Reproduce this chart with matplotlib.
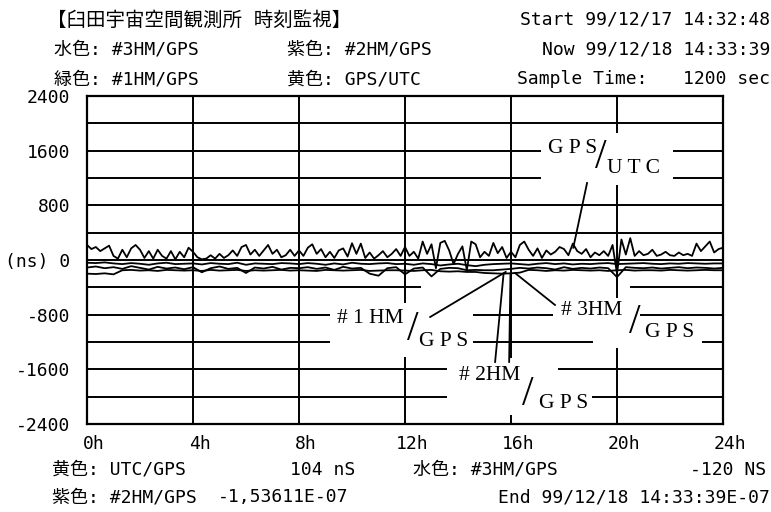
import numpy as np
import matplotlib.pyplot as plt
import matplotlib.transforms as mtransforms
from matplotlib.patches import Rectangle

W, H = 771, 512
MONO = ['DejaVu Sans Mono', 'Noto Sans CJK JP']
SERIF = ['Liberation Serif', 'DejaVu Serif']

# time offsets in ns, one value every 10 min (GPS/UTC) or 20 min (the masers)
utc_gps = [220, 160, 190, 130, 170, 210, 60, 20, 150, 40, 170, 220,
           150, 30, 130, 20, 150, 60, 20, 130, 10, 120, 40, 180,
           120, 40, 10, 20, 70, 20, 90, 30, 70, 140, 60, 190,
           220, 80, 150, 60, 140, 220, 90, 150, 40, 70, 150, 60,
           140, 60, 180, 230, 90, 160, 40, 120, 30, 140, 170, 50,
           245, 90, 240, 30, 110, 20, 70, 130, 40, 90, 160, 60,
           190, 60, 120, 20, 270, 90, 230, -120, 250, 280, 140, -60,
           90, 200, -150, 270, 230, 40, 120, 60, 250, 100, 190, 30,
           120, 40, 220, 270, 150, 60, 170, 30, 140, 80, 120, 190,
           160, 70, 240, 130, 90, 160, 40, 110, 70, 130, 60, 220,
           -200, 300, 80, 320, 60, 130, 70, 90, 150, 60, 80, 120,
           70, 60, 110, 70, 90, 60, 240, 130, 200, 270, 110, 160, 180]

hm1_gps = [-40, -45, -35, -50, -60, -45, -55, -70, -50, -40, -60, -55,
           -50, -65, -45, -55, -60, -40, -70, -50, -55, -60, -45, -50,
           -60, -45, -55, -70, -50, -65, -40, -55, -60, -50, -45, -60,
           -55, -70, -50, -60, -80, -65, -55, -75, -90, -70, -60, -55,
           -50, -60, -70, -55, -45, -60, -50, -65, -55, -60, -50, -45,
           -60, -55, -50, -45, -55, -60, -50, -55, -45, -50, -55, -50,
           -50]

hm2_gps = [-200, -205, -195, -210, -150, -145, -155, -150, -160, -145, -150, -155,
           -150, -160, -145, -155, -150, -145, -160, -150, -155, -150, -145, -155,
           -150, -155, -160, -145, -150, -155, -150, -145, -160, -155, -150, -150,
           -155, -160, -150, -145, -165, -170, -165, -175, -175, -190, -195, -200,
           -195, -185, -145, -150, -160, -150, -155, -145, -150, -155, -150, -160,
           -150, -145, -155, -150, -150, -155, -145, -150, -155, -150, -145, -150,
           -150]

hm3_gps = [-110, -95, -120, -105, -130, -90, -115, -140, -100, -125, -110, -135,
           -105, -180, -120, -95, -130, -115, -190, -110, -125, -100, -140, -115,
           -120, -105, -130, -110, -145, -100, -125, -115, -200, -230, -120, -105,
           -210, -125, -110, -240, -130, -115, -120, -150, -145, -150, -150, -140,
           -130, -115, -125, -110, -120, -140, -105, -130, -115, -125, -110, -120,
           -250, -105, -115, -120, -110, -125, -115, -105, -120, -110, -115, -125,
           -115]

grid_ns = [-2000, -1600, -1200, -800, -400, 0, 400, 800, 1200, 1600, 2000]
grid_h = [4, 8, 12, 16, 20]
y_ticks = [2400, 1600, 800, 0, -800, -1600, -2400]
y_tick_labels = ['2400', '1600', '800', '(ns) 0', '-800', '-1600', '-2400']
x_ticks = [0, 4, 8, 12, 16, 20, 24]
x_tick_labels = ['0h', '4h', '8h', '12h', '16h', '20h', '24h']

fig = plt.figure(figsize=(W / 100, H / 100), dpi=100)
ax = fig.add_axes([87 / W, 1 - 424 / H, (723 - 87) / W, (424 - 96) / H])
ax.set_xlim(0, 24)
ax.set_ylim(-2400, 2400)

for s in ax.spines.values():
    s.set_linewidth(1.6)
    s.set_zorder(6)

for y in grid_ns:
    ax.axhline(y, color='black', lw=1.4, zorder=1)
for x in grid_h:
    ax.axvline(x, color='black', lw=1.4, zorder=2)

# faded stretch of the -400 line on the printout
ax.add_patch(Rectangle((12.6, -460), 7.9, 120, fc='white', ec='none', zorder=1.5))

ax.set_xticks(x_ticks)
ax.set_xticklabels(x_tick_labels, family=MONO, fontsize=13)
ax.set_yticks(y_ticks)
ax.set_yticklabels(y_tick_labels, family=MONO, fontsize=13)
ax.tick_params(length=0)
ax.tick_params(axis='y', pad=12)
ax.tick_params(axis='x', pad=8)
shift = mtransforms.ScaledTranslation(7 / 100, 0, fig.dpi_scale_trans)
for lbl in ax.get_xticklabels():
    lbl.set_transform(lbl.get_transform() + shift)

for series in (hm2_gps, hm3_gps, hm1_gps, utc_gps):
    t = np.linspace(0, 24, len(series))
    ax.plot(t, series, color='black', lw=1.3, zorder=4)

# label boxes blank out the grid behind the series names
boxes = [
    (17.15, 22.12, 1097, 1858),
    (9.18, 14.57, -1419, -629),
    (17.59, 20.87, -995, -556),
    (19.10, 23.21, -1288, -849),
    (13.60, 17.78, -2048, -1434),
    (15.78, 19.06, -2268, -1683),
]
for x0, x1, y0, y1 in boxes:
    ax.add_patch(Rectangle((x0, y0), x1 - x0, y1 - y0, fc='white', ec='none', zorder=2.5))

pointers = [
    ((18.87, 1127), (18.35, 180)),
    ((12.95, -834), (15.80, -175)),
    ((15.40, -1492), (15.72, -200)),
    ((15.93, -1492), (15.98, -200)),
    ((17.66, -658), (16.15, -190)),
]
for (xa, ya), (xb, yb) in pointers:
    ax.plot([xa, xb], [ya, yb], color='black', lw=1.3, zorder=3)

names = [
    ('G P S', 18.34, 1639), ('U T C', 20.64, 1346), ('/', 19.40, 1492),
    ('# 1 HM', 10.69, -863), ('G P S', 13.44, -1200), ('/', 12.31, -1024),
    ('# 3HM', 19.06, -746), ('G P S', 22.00, -1068), ('/', 20.68, -922),
    ('# 2HM', 15.18, -1697), ('G P S', 17.97, -2093), ('/', 16.65, -1975),
]
for txt, x, y in names:
    size = 30 if txt == '/' else 15.5
    ax.text(x, y, txt, family=SERIF, fontsize=size, ha='center', va='center', zorder=5)


def put(x, y, s, ha='left', size=13):
    fig.text(x / W, 1 - y / H, s, family=MONO, fontsize=size, ha=ha, va='center')


# header
put(47, 20, '【臼田宇宙空間観測所 時刻監視】', size=14)
put(770, 20, 'Start 99/12/17 14:32:48', ha='right')
put(54, 50, '水色: #3HM/GPS')
put(287, 50, '紫色: #2HM/GPS')
put(770, 50, 'Now 99/12/18 14:33:39', ha='right')
put(54, 79, '緑色: #1HM/GPS')
put(287, 79, '黄色: GPS/UTC')
put(517, 79, 'Sample Time:')
put(770, 79, '1200 sec', ha='right')

# footer
put(52, 470, '黄色: UTC/GPS')
put(290, 470, '104 nS')
put(413, 470, '水色: #3HM/GPS')
put(766, 470, '-120 NS', ha='right')
put(52, 497, '紫色: #2HM/GPS')
put(218, 497, '-1,53611E-07')
put(770, 497, 'End 99/12/18 14:33:39E-07', ha='right')

fig.savefig('out.png', dpi=100)
